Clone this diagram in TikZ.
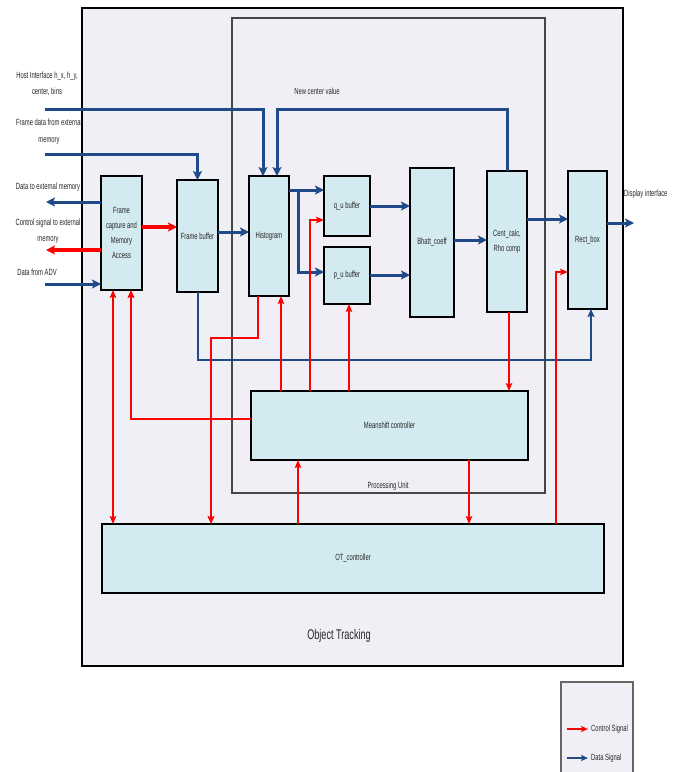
\documentclass[tikz,border=0pt]{standalone}
\usepackage{fontspec}
\setmainfont{Liberation Sans}[FakeStretch=0.65]
\usetikzlibrary{arrows.meta,calc}
\definecolor{dblue}{HTML}{1F4A87}
\definecolor{cred}{HTML}{FF0000}
\definecolor{blkfill}{HTML}{D3EAF0}
\definecolor{outerfill}{HTML}{EEF0F6}
\definecolor{pufill}{HTML}{F1EFF5}
\definecolor{txt}{HTML}{262626}
\begin{document}
\begin{tikzpicture}[x=1pt,y=-1pt,
 blk/.style={draw=black, line width=1.5pt, fill=blkfill, inner sep=0pt, outer sep=0pt, text=txt, align=center, font=\fontsize{9}{15}\selectfont},
 lbl/.style={text=txt, align=center, font=\fontsize{9}{16.5}\selectfont, inner sep=0pt},
 db/.style={draw=dblue, line width=3pt, -{Stealth[length=9pt,width=9pt,inset=2pt]}},
 dbl/.style={draw=dblue, line width=3pt},
 dbt/.style={draw=dblue, line width=2pt, -{Stealth[length=8pt,width=7pt,inset=1.5pt]}},
 rc/.style={draw=cred, line width=1.5pt, -{Stealth[length=8pt,width=6.5pt,inset=1.5pt]}},
 rcb/.style={draw=cred, line width=1.5pt, {Stealth[length=8pt,width=6.5pt,inset=1.5pt]}-{Stealth[length=8pt,width=6.5pt,inset=1.5pt]}},
 rtk/.style={draw=cred, line width=3.2pt, -{Stealth[length=9pt,width=9pt,inset=2pt]}},
 rmed/.style={draw=cred, line width=2.4pt, -{Stealth[length=8pt,width=7pt,inset=1.5pt]}},
 lg/.style={line width=1.3pt, -{Stealth[length=7pt,width=6pt,inset=1.5pt]}},
]
\useasboundingbox (0,0) rectangle (680,772);
\fill[white] (0,0) rectangle (680,772);
% frames
\draw[black, line width=2pt, fill=outerfill] (82,8) rectangle (623,666);
\draw[gray!55!black, line width=1.3pt, fill=pufill] (232,18) rectangle (545,493);
\fill[pufill] (561,682) rectangle (633,772);
\draw[gray!80!black, line width=1.2pt] (561,772) -- (561,682) -- (633,682) -- (633,772);

% helper levels
\foreach \v in {109,154,190,202,206,219,220,223,227,232,240,250,272,275,284,338,360,419}
  \coordinate (y\v) at (0,\v);
\foreach \v in {113,131,211,258,263,277,281,298,310,349,469,509,556,591}
  \coordinate (x\v) at (\v,0);

% blocks
\node[blk, minimum width=41, minimum height=114] (fc) at (121.5,233) {Frame\\capture and\\Memory\\Access};
\node[blk, minimum width=41, minimum height=112] (fb) at (197.5,236) {Frame buffer};
\node[blk, minimum width=40, minimum height=120] (hist) at (269,236) {Histogram};
\node[blk, minimum width=46, minimum height=60] (qu) at (347,206) {q\_u buffer};
\node[blk, minimum width=46, minimum height=57] (pu) at (347,275.5) {p\_u buffer};
\node[blk, minimum width=44, minimum height=149] (bh) at (432,242.5) {Bhatt\_coeff};
\node[blk, minimum width=40, minimum height=141] (cc) at (507,241.5) {Cent\_calc,\\Rho comp};
\node[blk, minimum width=39, minimum height=138] (rb) at (587.5,240) {Rect\_box};
\node[blk, minimum width=277, minimum height=69] (ms) at (389.5,425.5) {Meanshift controller};
\node[blk, minimum width=502, minimum height=69] (ot) at (353,558.5) {OT\_controller};

% labels
\node[lbl] (l1) at (47,84) {Host Interface h\_x, h\_y,\\center, bins};
\node[lbl] (l2) at (49,131.5) {Frame data from external\\memory};
\node[lbl] (l3) at (48,187) {Data to external memory};
\node[lbl] (l4) at (48,231) {Control signal to external\\memory};
\node[lbl] (l5) at (37,272) {Data from ADV};
\node[lbl] (l6) at (317,91) {New center value};
\node[lbl, anchor=west] (l7) at (624,194) {Display interface};
\node[lbl] (l8) at (388,486) {Processing Unit};
\node[lbl, font=\fontsize{14}{16}\selectfont] (l9) at (339,636) {Object Tracking};
\node[lbl, anchor=west] (l10) at (591,729) {Control Signal};
\node[lbl, anchor=west] (l11) at (591,758) {Data Signal};

% free ends
\coordinate (hostin) at (45,109);
\coordinate (fdin) at (45,154);
\coordinate (dtx) at (46,202);
\coordinate (csx) at (46,250);
\coordinate (adv) at (45,284);
\coordinate (disp) at (634,223);
\coordinate (br) at (298,190);
\coordinate (lr1) at (567,729);
\coordinate (lr2) at (588,729);
\coordinate (lb1) at (567,758);
\coordinate (lb2) at (588,758);

% data signals
\draw[db] (hostin) -| ([xshift=-6]hist.north);
\draw[db] (cc.north) |- (x277 |- y109) -- ([xshift=8]hist.north);
\draw[db] (fdin) -| (fb.north);
\draw[db] (fc.west |- dtx) -- (dtx);
\draw[db] (adv) -- (fc.west |- adv);
\draw[db] (fb.east |- y232) -- (hist.west |- y232);
\draw[db] (hist.east |- y190) -- (qu.west |- y190);
\draw[db] (br) |- (pu.west |- y272);
\draw[db] (qu.east |- y206) -- (bh.west |- y206);
\draw[db] (pu.east |- y275) -- (bh.west |- y275);
\draw[db] (bh.east |- y240) -- (cc.west |- y240);
\draw[db] (cc.east |- y219) -- (rb.west |- y219);
\draw[db] (rb.east |- y223) -- (disp);
\draw[dbt] (fb.south) |- (x591 |- y360) -- (rb.south -| x591);

% control signals
\draw[rtk] (fc.east |- y227) -- (fb.west |- y227);
\draw[rtk] (fc.west |- csx) -- (csx);
\draw[rcb] (ot.north -| x113) -- (fc.south -| x113);
\draw[rmed] (ms.west |- y419) -| (fc.south -| x131);
\draw[rmed] (hist.south -| x258) |- (x211 |- y338) -- (ot.north -| x211);
\draw[rc] (ms.north -| x281) -- (hist.south -| x281);
\draw[rc] (ms.north -| x310) |- (qu.west |- y220);
\draw[rc] (ms.north -| x349) -- (pu.south -| x349);
\draw[rc] (cc.south -| x509) -- (ms.north -| x509);
\draw[rc] (ot.north -| x298) -- (ms.south -| x298);
\draw[rc] (ms.south -| x469) -- (ot.north -| x469);
\draw[rc] (ot.north -| x556) |- (rb.west |- y272);

% legend
\draw[lg, cred] (lr1) -- (lr2);
\draw[lg, dblue] (lb1) -- (lb2);
\end{tikzpicture}
\end{document}
